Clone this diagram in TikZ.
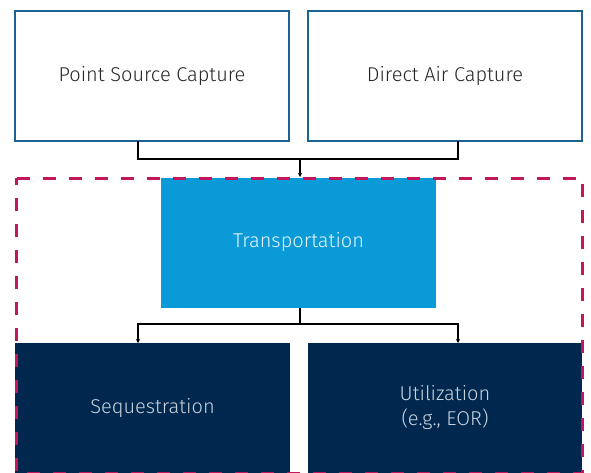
\documentclass[tikz,border=0pt]{standalone}
\usepackage{fontspec}
\setmainfont{Fira Sans Light}
\usetikzlibrary{arrows.meta}
\definecolor{outblue}{HTML}{1B6393}
\definecolor{transblue}{HTML}{0A9AD8}
\definecolor{navy}{HTML}{00284F}
\definecolor{dashred}{HTML}{C2185B}
\definecolor{navytext}{HTML}{C9D3DE}
\tikzset{
  capbox/.style={draw=outblue, line width=2pt, fill=white, text=black!85},
  conn/.style={line width=1.6pt, black},
  arr/.style={conn, -{Stealth[length=4pt,width=4pt]}},
  frame/.style={draw=dashred, line width=3pt, dash pattern=on 13pt off 13pt},
  lbl/.style={font=\fontsize{20}{25}\selectfont}
}
\begin{document}
\begin{tikzpicture}[x=1pt,y=-1pt]
\useasboundingbox (0,0) rectangle (591,472);
\fill[white] (0,0) rectangle (591,472);
% boxes
\draw[capbox] (15,11) rectangle (289,141);
\node[lbl, text=black!85] (psc) at (152,76) {Point Source Capture};
\draw[capbox] (308,11) rectangle (582,141);
\node[lbl, text=black!85] (dac) at (445,76) {Direct Air Capture};
\fill[transblue] (161,178) rectangle (436,308);
\node[lbl, text=white!90!transblue] (tr) at (298.5,242) {Transportation};
\fill[navy] (15,343) rectangle (290,473);
\node[lbl, text=navytext] (seq) at (152.5,408) {Sequestration};
\fill[navy] (308,343) rectangle (582,473);
\node[lbl, text=navytext, align=center] (ut) at (445,408) {Utilization\\(e.g., EOR)};
% named anchors
\coordinate (a1) at (138,141);
\coordinate (a2) at (458,141);
\coordinate (j1) at (300,159);
\coordinate (t1) at (300,177);
\coordinate (b0) at (300,308);
\coordinate (j2) at (300,324);
\coordinate (s1) at (138,343);
\coordinate (u1) at (458,343);
\draw[conn] (a1) |- (j1);
\draw[conn] (a2) |- (j1);
\draw[arr] (j1) -- (t1);
\draw[conn] (b0) -- (j2);
\draw[arr] (j2) -| (s1);
\draw[arr] (j2) -| (u1);
% dashed frame on top
\draw[frame] (16.5,178) -- (582.5,178) -- (582.5,473.6) -- (16.5,473.6) -- cycle;
\end{tikzpicture}
\end{document}
